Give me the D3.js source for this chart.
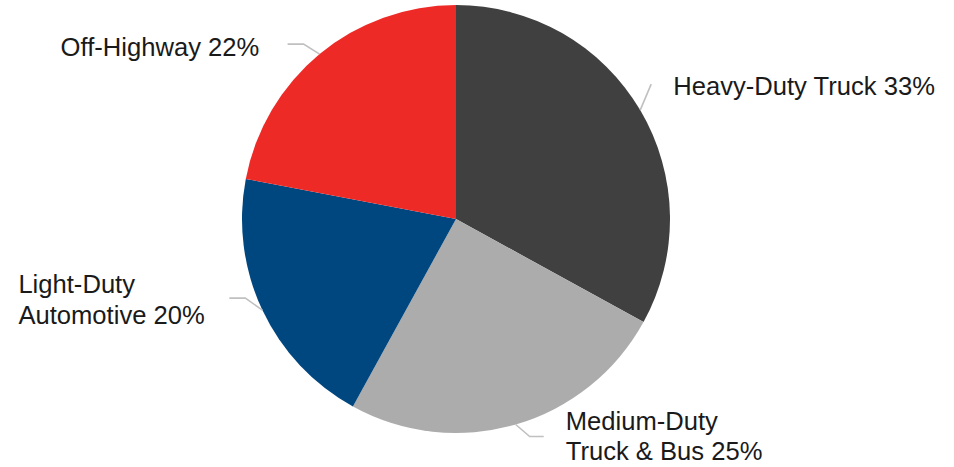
<!DOCTYPE html>
<meta charset="utf-8" />
<style>
    body {
        margin: 0;
        background: #ffffff;
    }

    text {
        font-family: 'Liberation Sans', Arial, sans-serif;
        font-size: 25.6px;
        fill: #1a1a1a;
    }

    .leader {
        fill: none;
        stroke: #c0c0c0;
        stroke-width: 1.6px;
    }
</style>

<svg width="954" height="467"></svg>

<script src="https://d3js.org/d3.v7.min.js"></script>
<script>
    // chart data
    const segments = ['Heavy-Duty Truck', 'Medium-Duty Truck & Bus', 'Light-Duty Automotive', 'Off-Highway'];
    const shares = [33, 25, 20, 22];
    const labelLines = [
        ['Heavy-Duty Truck 33%'],
        ['Medium-Duty', 'Truck & Bus 25%'],
        ['Light-Duty', 'Automotive 20%'],
        ['Off-Highway 22%'],
    ];
    const colors = ['#404040', '#acacac', '#00467f', '#ee2a26'];

    function draw() {
        const svg = d3.select('svg');

        const cx = 456;
        const cy = 219;
        const radius = 214;

        // leader line bends, relative to the point on the rim, plus text placement
        const leaders = [
            { pts: [[0, 0], [11, -26]], tx: 33, ty: -15, anchor: 'start' },
            { pts: [[0, 0], [14, 12], [28, 12]], tx: 50, ty: 5, anchor: 'start' },
            { pts: [[0, 0], [-17, -12], [-33, -12]], tx: -244, ty: -17, anchor: 'start' },
            { pts: [[0, 0], [-16, -10], [-32, -10]], tx: -259, ty: 2, anchor: 'start' },
        ];

        const data = segments.map((s, i) => ({ name: s, value: shares[i], lines: labelLines[i], color: colors[i] }));

        const pie = d3.pie().sort(null).value(d => d.value);
        const arc = d3.arc().innerRadius(0).outerRadius(radius);

        const arcs = pie(data);

        const g = svg.append('g').attr('transform', `translate(${cx},${cy})`);

        g.selectAll('.slice')
            .data(arcs)
            .enter()
            .append('path')
            .attr('class', 'slice')
            .attr('d', arc)
            .attr('fill', d => d.data.color);

        const line = d3.line();

        arcs.forEach((d, i) => {
            const mid = (d.startAngle + d.endAngle) / 2;
            const rx = radius * Math.sin(mid);
            const ry = -radius * Math.cos(mid);
            const lead = leaders[i];

            g.append('path')
                .attr('class', 'leader')
                .attr('d', line(lead.pts.map(p => [rx + p[0], ry + p[1]])));

            const t = g.append('text')
                .attr('x', rx + lead.tx)
                .attr('y', ry + lead.ty)
                .attr('text-anchor', lead.anchor);

            d.data.lines.forEach((l, j) => {
                t.append('tspan')
                    .attr('x', rx + lead.tx)
                    .attr('dy', j === 0 ? 0 : 30.5)
                    .text(l);
            });
        });
    }

    draw();
</script>
